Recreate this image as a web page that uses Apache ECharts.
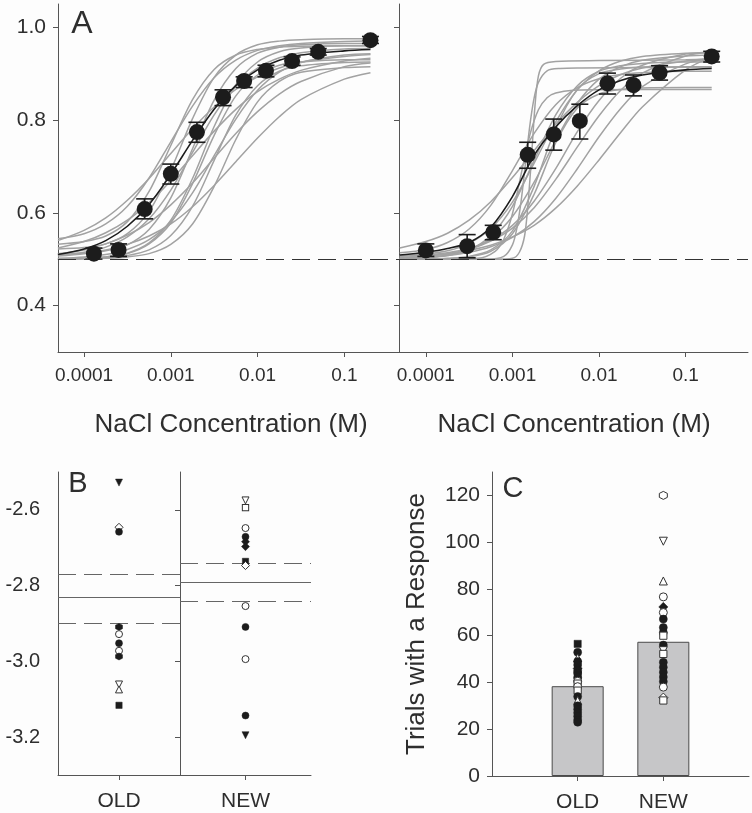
<!DOCTYPE html>
<html><head><meta charset="utf-8">
<script src="https://cdn.jsdelivr.net/npm/echarts@6/dist/echarts.min.js"></script>
<style>html,body{margin:0;padding:0;background:#fdfdfd}#c{width:752px;height:813px}</style>
</head><body><div id="c"></div>
<script>
// ---------- Panel A : psychometric data ----------
const concTicks = [0.0001, 0.001, 0.01, 0.1];
const concTickLabels = ['0.0001', '0.001', '0.01', '0.1'];
const accuracyTicks = [0.4, 0.6, 0.8, 1.0];
const chanceLevel = 0.5;

const leftConc = [0.00013, 0.00025, 0.0005, 0.001, 0.002, 0.004, 0.007, 0.0125, 0.025, 0.05, 0.2];
const leftMean = [0.512, 0.520, 0.608, 0.684, 0.774, 0.849, 0.884, 0.906, 0.927, 0.947, 0.972];
const leftLow  = [0.500, 0.506, 0.587, 0.662, 0.752, 0.831, 0.870, 0.893, 0.918, 0.940, 0.965];
const leftHigh = [0.524, 0.533, 0.630, 0.705, 0.795, 0.865, 0.893, 0.918, 0.936, 0.954, 0.980];

const rightConc = [0.0001, 0.0003, 0.0006, 0.0015, 0.003, 0.006, 0.0125, 0.025, 0.05, 0.2];
const rightMean = [0.519, 0.528, 0.558, 0.725, 0.769, 0.798, 0.879, 0.875, 0.902, 0.937];
const rightLow  = [0.506, 0.503, 0.542, 0.696, 0.735, 0.759, 0.856, 0.852, 0.886, 0.925];
const rightHigh = [0.533, 0.553, 0.573, 0.752, 0.802, 0.834, 0.901, 0.897, 0.917, 0.948];

// concentrations at which the fitted curves were read
const curveConc = [0.00005, 0.0001, 0.000178, 0.000316, 0.000562, 0.001, 0.00178, 0.00316, 0.00562, 0.01, 0.0178, 0.0316, 0.1, 0.2];

const leftFit = [0.510, 0.522, 0.540, 0.571, 0.618, 0.683, 0.756, 0.823, 0.874, 0.908, 0.929, 0.940, 0.949, 0.952];
const leftCurves = [
  [0.544, 0.555, 0.576, 0.614, 0.675, 0.753, 0.830, 0.891, 0.929, 0.950, 0.960, 0.965, 0.969, 0.970],
  [0.532, 0.538, 0.550, 0.581, 0.646, 0.745, 0.844, 0.909, 0.940, 0.952, 0.957, 0.959, 0.960, 0.960],
  [0.522, 0.525, 0.533, 0.555, 0.603, 0.692, 0.803, 0.892, 0.940, 0.962, 0.970, 0.973, 0.975, 0.975],
  [0.511, 0.513, 0.518, 0.531, 0.564, 0.632, 0.738, 0.843, 0.911, 0.944, 0.957, 0.962, 0.965, 0.965],
  [0.509, 0.515, 0.526, 0.548, 0.587, 0.649, 0.730, 0.811, 0.873, 0.912, 0.934, 0.945, 0.953, 0.954],
  [0.540, 0.562, 0.589, 0.627, 0.674, 0.728, 0.781, 0.828, 0.866, 0.893, 0.912, 0.925, 0.937, 0.941],
  [0.500, 0.502, 0.505, 0.513, 0.535, 0.584, 0.674, 0.786, 0.876, 0.925, 0.947, 0.955, 0.960, 0.960],
  [0.524, 0.538, 0.557, 0.584, 0.622, 0.669, 0.723, 0.776, 0.823, 0.861, 0.888, 0.907, 0.927, 0.933],
  [0.500, 0.502, 0.505, 0.512, 0.533, 0.578, 0.663, 0.767, 0.852, 0.897, 0.918, 0.925, 0.930, 0.930],
  [0.502, 0.505, 0.510, 0.521, 0.542, 0.581, 0.643, 0.723, 0.802, 0.864, 0.903, 0.924, 0.940, 0.943],
  [0.500, 0.501, 0.503, 0.508, 0.520, 0.551, 0.614, 0.713, 0.811, 0.874, 0.905, 0.917, 0.924, 0.925],
  [0.500, 0.501, 0.502, 0.505, 0.512, 0.532, 0.576, 0.657, 0.758, 0.839, 0.883, 0.903, 0.913, 0.915],
  [0.512, 0.520, 0.533, 0.552, 0.579, 0.617, 0.664, 0.718, 0.771, 0.818, 0.856, 0.883, 0.915, 0.923],
  [0.507, 0.512, 0.520, 0.532, 0.550, 0.576, 0.613, 0.659, 0.710, 0.761, 0.807, 0.844, 0.888, 0.902]
];

const rightFit = [0.509, 0.515, 0.523, 0.536, 0.569, 0.635, 0.724, 0.785, 0.831, 0.865, 0.885, 0.897, 0.908, 0.911];
const rightCurves = [
  [0.500, 0.500, 0.501, 0.505, 0.517, 0.555, 0.640, 0.751, 0.826, 0.856, 0.866, 0.869, 0.870, 0.870],
  [0.524, 0.538, 0.556, 0.584, 0.624, 0.676, 0.734, 0.791, 0.838, 0.874, 0.898, 0.912, 0.927, 0.931],
  [0.507, 0.511, 0.518, 0.534, 0.566, 0.623, 0.707, 0.796, 0.865, 0.906, 0.927, 0.937, 0.944, 0.945],
  [0.501, 0.503, 0.508, 0.520, 0.551, 0.614, 0.713, 0.811, 0.874, 0.905, 0.917, 0.922, 0.925, 0.925],
  [0.502, 0.504, 0.509, 0.521, 0.545, 0.592, 0.666, 0.756, 0.836, 0.888, 0.915, 0.929, 0.938, 0.940],
  [0.500, 0.500, 0.502, 0.506, 0.520, 0.561, 0.657, 0.782, 0.866, 0.900, 0.910, 0.914, 0.915, 0.915],
  [0.507, 0.509, 0.514, 0.523, 0.541, 0.573, 0.625, 0.695, 0.775, 0.842, 0.890, 0.918, 0.942, 0.946],
  [0.503, 0.506, 0.512, 0.521, 0.539, 0.567, 0.611, 0.672, 0.742, 0.809, 0.864, 0.901, 0.938, 0.947],
  [0.504, 0.507, 0.511, 0.519, 0.530, 0.548, 0.573, 0.610, 0.658, 0.714, 0.773, 0.828, 0.908, 0.936],
  [0.514, 0.521, 0.536, 0.565, 0.616, 0.691, 0.771, 0.833, 0.870, 0.889, 0.898, 0.902, 0.905, 0.905],
  [0.502, 0.504, 0.508, 0.515, 0.527, 0.547, 0.581, 0.631, 0.695, 0.764, 0.825, 0.872, 0.921, 0.933]
];
// steep individual fits in the right panel, read on their own concentrations
const steepConcA = [0.00005, 0.000631, 0.001, 0.001202, 0.00138, 0.001514, 0.00166, 0.00182, 0.001995, 0.002291, 0.003162, 0.01, 0.1, 0.2];
const steepA     = [0.500, 0.500, 0.502, 0.515, 0.550, 0.620, 0.720, 0.830, 0.895, 0.920, 0.926, 0.928, 0.930, 0.932];
const steepConcB = [0.00005, 0.000501, 0.000794, 0.001, 0.001122, 0.001259, 0.001413, 0.001585, 0.001778, 0.001995, 0.002512, 0.003548, 0.00631, 0.0316, 0.2];
const steepB     = [0.500, 0.500, 0.506, 0.531, 0.566, 0.625, 0.706, 0.787, 0.847, 0.881, 0.906, 0.911, 0.912, 0.913, 0.914];
const steepConcC = [0.00005, 0.000398, 0.000631, 0.000794, 0.001, 0.001259, 0.001585, 0.001995, 0.002512, 0.003162, 0.005012, 0.01, 0.1, 0.2];
const steepC     = [0.500, 0.502, 0.517, 0.543, 0.598, 0.683, 0.767, 0.822, 0.848, 0.858, 0.864, 0.865, 0.866, 0.866];

// ---------- Panel B : thresholds ----------
const thresholdTicks = [-3.2, -3.0, -2.8, -2.6];
const thresholdOld = [-2.528, -2.646, -2.658, -2.909, -2.928, -2.952, -2.972, -2.987, -3.061, -3.074, -3.116];
const thresholdOldMarkers = ['v', 'od', 'c', 'h', 'oc', 'c', 'oc', 'h', 'ov', 'ot', 's'];
const thresholdNew = [-2.575, -2.594, -2.648, -2.671, -2.684, -2.697, -2.736, -2.747, -2.854, -2.909, -2.994, -3.143, -3.195];
const thresholdNewMarkers = ['ov', 'os', 'oc', 'c', 'd', 'd', 's', 'od', 'oc', 'c', 'oc', 'c', 'v'];
const thresholdOldMean = -2.834, thresholdOldLower = -2.898, thresholdOldUpper = -2.775;
const thresholdNewMean = -2.788, thresholdNewLower = -2.839, thresholdNewUpper = -2.738;

// ---------- Panel C : trials ----------
const trialCategories = ['', 'OLD', 'NEW', ''];
const trialTicks = [0, 20, 40, 60, 80, 100, 120];
const trialMeans = [38.4, 57.4];
const trialsOld = [56.5, 52.9, 50.5, 49, 47.5, 46, 45, 44, 43, 42, 40.5, 39.5, 38.2, 36.5, 34, 32.3, 30, 28.5, 27, 25.5, 24, 23];
const trialsOldMarkers = ['s', 'c', 'ot', 'c', 'c', 'd', 'c', 'c', 's', 'c', 'oc', 'os', 'oc', 'os', 'c', 'ot', 'c', 'c', 'c', 'c', 'c', 'c'];
const trialsNew = [120, 100.4, 83.4, 76.6, 72.3, 69.9, 67.1, 63.5, 61.4, 60, 56, 53.6, 52.2, 48.6, 46.5, 44.4, 42.3, 40.4, 38, 33.5, 32.3];
const trialsNewMarkers = ['oh', 'ov', 'ot', 'oc', 'd', 'oc', 'c', 'c', 'c', 'os', 'c', 'ov', 'os', 'c', 'c', 'c', 'c', 'c', 'oc', 'od', 'os'];

// ---------- build ----------
const FONT = '"Liberation Sans", Arial, sans-serif';
const TXT = '#2e2e2e';
const AX = '#555';
const DARK = '#1c1c1c';
const HEX = 'path://M0,-10L8.66,-5L8.66,5L0,10L-8.66,5L-8.66,-5Z';
const lg = Math.log10;

function marker(code, size) {
  const open = code[0] === 'o';
  const k = open ? code.slice(1) : code;
  let symbol = 'circle', rotate = 0, s = size;
  if (k === 's') { symbol = 'rect'; s = size * 0.9; }
  else if (k === 't') { symbol = 'triangle'; }
  else if (k === 'v') { symbol = 'triangle'; rotate = 180; }
  else if (k === 'd') { symbol = 'diamond'; s = size * 1.15; }
  else if (k === 'h') { symbol = HEX; }
  return { symbol, symbolRotate: rotate, symbolSize: s,
    itemStyle: open ? { color: '#fff', borderColor: '#333', borderWidth: 1, opacity: 1 }
                    : { color: DARK, borderColor: DARK, borderWidth: 0.5, opacity: 1 } };
}
function markerData(cat, vals, codes, size) {
  return vals.map((v, i) => Object.assign({ value: [cat, v] }, marker(codes[i], size)));
}

function concAxis(gi, mn, mx) {
  return { type: 'value', gridIndex: gi, min: mn, max: mx,
    axisLine: { show: true, lineStyle: { color: AX, width: 1 } },
    axisTick: { show: true, length: 5, customValues: concTicks.map(lg), lineStyle: { color: AX } },
    axisLabel: { customValues: concTicks.map(lg), margin: 14, fontSize: 19, fontFamily: FONT, color: TXT,
      formatter: v => { const i = concTicks.findIndex(c => Math.abs(lg(c) - v) < 1e-6); return i >= 0 ? concTickLabels[i] : ''; } },
    splitLine: { show: false } };
}
function accAxis(gi, showLabels) {
  return { type: 'value', gridIndex: gi, min: 0.3, max: 1.05,
    axisLine: { show: true, lineStyle: { color: AX, width: 1 } },
    axisTick: { show: true, length: 5, customValues: accuracyTicks, lineStyle: { color: AX } },
    axisLabel: { show: showLabels, customValues: accuracyTicks, margin: 12, fontSize: 21, fontFamily: FONT, color: TXT,
      formatter: v => v.toFixed(1) },
    splitLine: { show: false } };
}
function thrYAxis(gi, showLabels) {
  return { type: 'value', gridIndex: gi, min: -3.3, max: -2.5,
    axisLine: { show: true, lineStyle: { color: AX, width: 1 } },
    axisTick: { show: !showLabels, length: 5, customValues: thresholdTicks, lineStyle: { color: AX } },
    axisLabel: { show: showLabels, customValues: thresholdTicks, margin: 18, fontSize: 20, fontFamily: FONT, color: TXT,
      formatter: v => v.toFixed(1) },
    splitLine: { show: false } };
}
function catAxis(gi, data) {
  return { type: 'category', gridIndex: gi, data: data, boundaryGap: true,
    axisLine: { show: true, lineStyle: { color: AX, width: 1 } },
    axisTick: { show: true, alignWithLabel: true, length: 5, lineStyle: { color: AX } },
    axisLabel: { margin: 16, fontSize: 21, fontFamily: FONT, color: TXT },
    splitLine: { show: false } };
}

function grayLines(curves, xs, xi) {
  return curves.map(ys => ({ type: 'line', xAxisIndex: xi, yAxisIndex: xi, data: xs.map((c, i) => [lg(c), ys[i]]),
    showSymbol: false, smooth: 0.3, silent: true, z: 2, lineStyle: { color: '#a2a2a2', width: 1.5 } }));
}
function fitLine(ys, xi) {
  return { type: 'line', xAxisIndex: xi, yAxisIndex: xi, data: curveConc.map((c, i) => [lg(c), ys[i]]),
    showSymbol: false, smooth: 0.3, silent: true, z: 3, lineStyle: { color: DARK, width: 1.6 },
    markLine: { silent: true, symbol: 'none', label: { show: false },
      lineStyle: { color: '#333', width: 1, type: [18, 8] }, data: [{ yAxis: chanceLevel }] } };
}
function errorBars(conc, lo, hi, xi) {
  return { type: 'custom', xAxisIndex: xi, yAxisIndex: xi, z: 4, silent: true,
    encode: { x: 0, y: [1, 2] },
    data: conc.map((c, i) => [lg(c), lo[i], hi[i]]),
    renderItem: (params, api) => {
      const x = api.value(0);
      const t = api.coord([x, api.value(2)]);
      const b = api.coord([x, api.value(1)]);
      const hw = 8.5, st = { stroke: DARK, lineWidth: 1.6 };
      return { type: 'group', children: [
        { type: 'line', shape: { x1: t[0], y1: t[1], x2: b[0], y2: b[1] }, style: st },
        { type: 'line', shape: { x1: t[0] - hw, y1: t[1], x2: t[0] + hw, y2: t[1] }, style: st },
        { type: 'line', shape: { x1: b[0] - hw, y1: b[1], x2: b[0] + hw, y2: b[1] }, style: st }
      ] };
    } };
}
function means(conc, m, xi) {
  return { type: 'scatter', xAxisIndex: xi, yAxisIndex: xi, z: 5, silent: true, symbolSize: 16,
    itemStyle: { color: DARK, opacity: 1 }, data: conc.map((c, i) => [lg(c), m[i]]) };
}
function thrLines(mean, lower, upper) {
  return { silent: true, symbol: 'none', label: { show: false }, lineStyle: { color: '#666', width: 1 },
    data: [ { yAxis: mean, lineStyle: { type: 'solid' } },
            { yAxis: lower, lineStyle: { type: [18, 8] } },
            { yAxis: upper, lineStyle: { type: [18, 8] } } ] };
}

const series = [].concat(
  grayLines(leftCurves, curveConc, 0),
  [fitLine(leftFit, 0), errorBars(leftConc, leftLow, leftHigh, 0), means(leftConc, leftMean, 0)],
  grayLines(rightCurves, curveConc, 1),
  grayLines([steepA], steepConcA, 1), grayLines([steepB], steepConcB, 1), grayLines([steepC], steepConcC, 1),
  [fitLine(rightFit, 1), errorBars(rightConc, rightLow, rightHigh, 1), means(rightConc, rightMean, 1)],
  [
    { type: 'scatter', xAxisIndex: 2, yAxisIndex: 2, z: 5, silent: true,
      data: markerData('OLD', thresholdOld, thresholdOldMarkers, 7),
      markLine: thrLines(thresholdOldMean, thresholdOldLower, thresholdOldUpper) },
    { type: 'scatter', xAxisIndex: 3, yAxisIndex: 3, z: 5, silent: true,
      data: markerData('NEW', thresholdNew, thresholdNewMarkers, 7),
      markLine: thrLines(thresholdNewMean, thresholdNewLower, thresholdNewUpper) },
    { type: 'bar', xAxisIndex: 4, yAxisIndex: 4, barWidth: 52, silent: true, z: 2,
      itemStyle: { color: '#c6c6c8', borderColor: '#4a4a4a', borderWidth: 1 },
      data: ['-', trialMeans[0], trialMeans[1], '-'] },
    { type: 'scatter', xAxisIndex: 4, yAxisIndex: 4, z: 5, silent: true,
      data: markerData('OLD', trialsOld, trialsOldMarkers, 8) },
    { type: 'scatter', xAxisIndex: 4, yAxisIndex: 4, z: 5, silent: true,
      data: markerData('NEW', trialsNew, trialsNewMarkers, 8) }
  ]
);

const option = {
  animation: false,
  backgroundColor: '#fdfdfd',
  grid: [
    { left: 58, top: 4, width: 341, height: 348 },
    { left: 399, top: 4, width: 349, height: 348 },
    { left: 58, top: 472, width: 122, height: 303 },
    { left: 180, top: 472, width: 131, height: 303 },
    { left: 492, top: 472, width: 258, height: 304 }
  ],
  xAxis: [
    concAxis(0, -4.30, -0.37),
    concAxis(1, -4.31, -0.28),
    catAxis(2, ['OLD']),
    catAxis(3, ['NEW']),
    { type: 'category', gridIndex: 4, data: trialCategories, boundaryGap: false,
      axisLine: { show: true, lineStyle: { color: AX, width: 1 } },
      axisTick: { show: true, length: 5, interval: (i, v) => v !== '', lineStyle: { color: AX } },
      axisLabel: { margin: 16, fontSize: 21, fontFamily: FONT, color: TXT, interval: 0 },
      splitLine: { show: false } }
  ],
  yAxis: [
    accAxis(0, true),
    accAxis(1, false),
    thrYAxis(2, true),
    thrYAxis(3, false),
    { type: 'value', gridIndex: 4, min: 0, max: 130,
      axisLine: { show: true, lineStyle: { color: AX, width: 1 } },
      axisTick: { show: true, length: 5, customValues: trialTicks, lineStyle: { color: AX } },
      axisLabel: { customValues: trialTicks, margin: 12, fontSize: 21, fontFamily: FONT, color: TXT },
      splitLine: { show: false } }
  ],
  graphic: [
    { type: 'text', x: 82, y: 24, style: { text: 'A', fontSize: 32, fontFamily: FONT, fill: TXT, align: 'center', verticalAlign: 'middle' } },
    { type: 'text', x: 78, y: 484, style: { text: 'B', fontSize: 29, fontFamily: FONT, fill: TXT, align: 'center', verticalAlign: 'middle' } },
    { type: 'text', x: 513, y: 489, style: { text: 'C', fontSize: 29, fontFamily: FONT, fill: TXT, align: 'center', verticalAlign: 'middle' } },
    { type: 'text', x: 231, y: 425, style: { text: 'NaCl Concentration (M)', fontSize: 26, fontFamily: FONT, fill: TXT, align: 'center', verticalAlign: 'middle' } },
    { type: 'text', x: 574, y: 425, style: { text: 'NaCl Concentration (M)', fontSize: 26, fontFamily: FONT, fill: TXT, align: 'center', verticalAlign: 'middle' } },
    { type: 'text', x: 417, y: 624, rotation: Math.PI / 2, style: { text: 'Trials with a Response', fontSize: 26, fontFamily: FONT, fill: TXT, align: 'center', verticalAlign: 'middle' } }
  ],
  series: series
};

const chart = echarts.init(document.getElementById('c'), null, { renderer: 'canvas' });
chart.setOption(option);
</script>
</body></html>
